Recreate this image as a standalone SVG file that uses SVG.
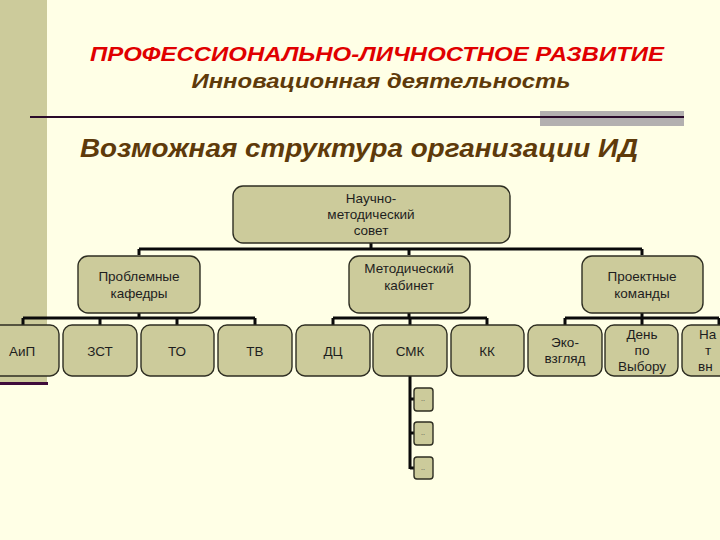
<svg xmlns="http://www.w3.org/2000/svg" width="720" height="540" viewBox="0 0 720 540">
<style>
.n rect{fill:#CCCB9B;stroke:#2E2E22;stroke-width:1.4}
.n text{font-family:"Liberation Sans",Arial,sans-serif;font-size:13.5px;fill:#1E1E1E;text-anchor:middle}
.s rect{fill:#CCCB9B;stroke:#2E2E22;stroke-width:1.4}
.s text{font-family:"Liberation Sans",Arial,sans-serif;font-size:7px;fill:#444;text-anchor:middle}
.c{stroke:#0A0A0A;stroke-width:3;fill:none}
.h{font-family:"Liberation Sans",Arial,sans-serif;font-weight:bold;font-style:italic;text-anchor:middle}
</style>
<rect x="0" y="0" width="720" height="540" fill="#FFFFE6"/>
<rect x="0" y="0" width="47" height="383" fill="#CCCB9B"/>
<rect x="0" y="382" width="48" height="3" fill="#3E0B3A"/>
<rect x="540" y="111" width="144" height="15" fill="#B3B0B0"/>
<line x1="30" y1="117" x2="684" y2="117" stroke="#2A0A2A" stroke-width="2"/>
<text class="h" x="377" y="61" font-size="21" fill="#E00000" textLength="574" lengthAdjust="spacingAndGlyphs">ПРОФЕССИОНАЛЬНО-ЛИЧНОСТНОЕ РАЗВИТИЕ</text>
<text class="h" x="381" y="88" font-size="20" fill="#5E3A0A" textLength="379" lengthAdjust="spacingAndGlyphs">Инновационная деятельность</text>
<text class="h" x="359" y="157" font-size="26" fill="#5E3A0A" textLength="558" lengthAdjust="spacingAndGlyphs">Возможная структура организации ИД</text>
<g id="connectors">
<path class="c" d="M371 243V249M139 249H642M139 249V255M409 249V255M642 249V255"/>
<path class="c" d="M139 313V318M23 318H255M23 318V325M100 318V325M177 318V325M255 318V325"/>
<path class="c" d="M409 313V318M333 318H487M333 318V325M410 318V325M487 318V325"/>
<path class="c" d="M642 313V318M565 318H719M565 318V325M642 318V325M719 318V325"/>
<path class="c" d="M410 376V469M410 399H414M410 433H414M410 468H414"/>
</g>
<g id="n-sovet" class="n"><rect x="233" y="186" width="277" height="57" rx="10"/><text x="371" y="203">Научно-</text><text x="371" y="219">методический</text><text x="371" y="235">совет</text></g>
<g id="n-kafedry" class="n"><rect x="78" y="256" width="122" height="57" rx="10"/><text x="139" y="281">Проблемные</text><text x="139" y="298">кафедры</text></g>
<g id="n-kabinet" class="n"><rect x="349" y="256" width="121" height="57" rx="10"/><text x="409" y="273">Методический</text><text x="409" y="290">кабинет</text></g>
<g id="n-komandy" class="n"><rect x="582" y="256" width="121" height="57" rx="10"/><text x="642" y="281">Проектные</text><text x="642" y="298">команды</text></g>
<g id="n-aip" class="n"><rect x="-15" y="325" width="74" height="51" rx="9"/><text x="22" y="356">АиП</text></g>
<g id="n-zst" class="n"><rect x="63" y="325" width="74" height="51" rx="9"/><text x="100" y="356">ЗСТ</text></g>
<g id="n-to" class="n"><rect x="141" y="325" width="73" height="51" rx="9"/><text x="177" y="356">ТО</text></g>
<g id="n-tv" class="n"><rect x="218" y="325" width="74" height="51" rx="9"/><text x="255" y="356">ТВ</text></g>
<g id="n-dc" class="n"><rect x="296" y="325" width="74" height="51" rx="9"/><text x="333" y="356">ДЦ</text></g>
<g id="n-smk" class="n"><rect x="373" y="325" width="74" height="51" rx="9"/><text x="410" y="356">СМК</text></g>
<g id="n-kk" class="n"><rect x="451" y="325" width="73" height="51" rx="9"/><text x="487" y="356">КК</text></g>
<g id="n-eko" class="n"><rect x="528" y="325" width="74" height="51" rx="9"/><text x="565" y="347">Эко-</text><text x="565" y="363">взгляд</text></g>
<g id="n-den" class="n"><rect x="605" y="325" width="73" height="51" rx="9"/><text x="642" y="339">День</text><text x="642" y="355">по</text><text x="642" y="371">Выбору</text></g>
<g id="n-na" class="n"><rect x="682" y="325" width="74" height="51" rx="9"/><text x="699" y="339" style="text-anchor:start">На</text><text x="705" y="355" style="text-anchor:start">т</text><text x="698" y="371" style="text-anchor:start">вн</text></g>
<g id="n-s1" class="s"><rect x="414" y="388" width="19" height="23" rx="3"/><text x="423" y="401">..</text></g>
<g id="n-s2" class="s"><rect x="414" y="422" width="19" height="23" rx="3"/><text x="423" y="435">..</text></g>
<g id="n-s3" class="s"><rect x="414" y="457" width="19" height="22" rx="3"/><text x="423" y="470">..</text></g>
</svg>
